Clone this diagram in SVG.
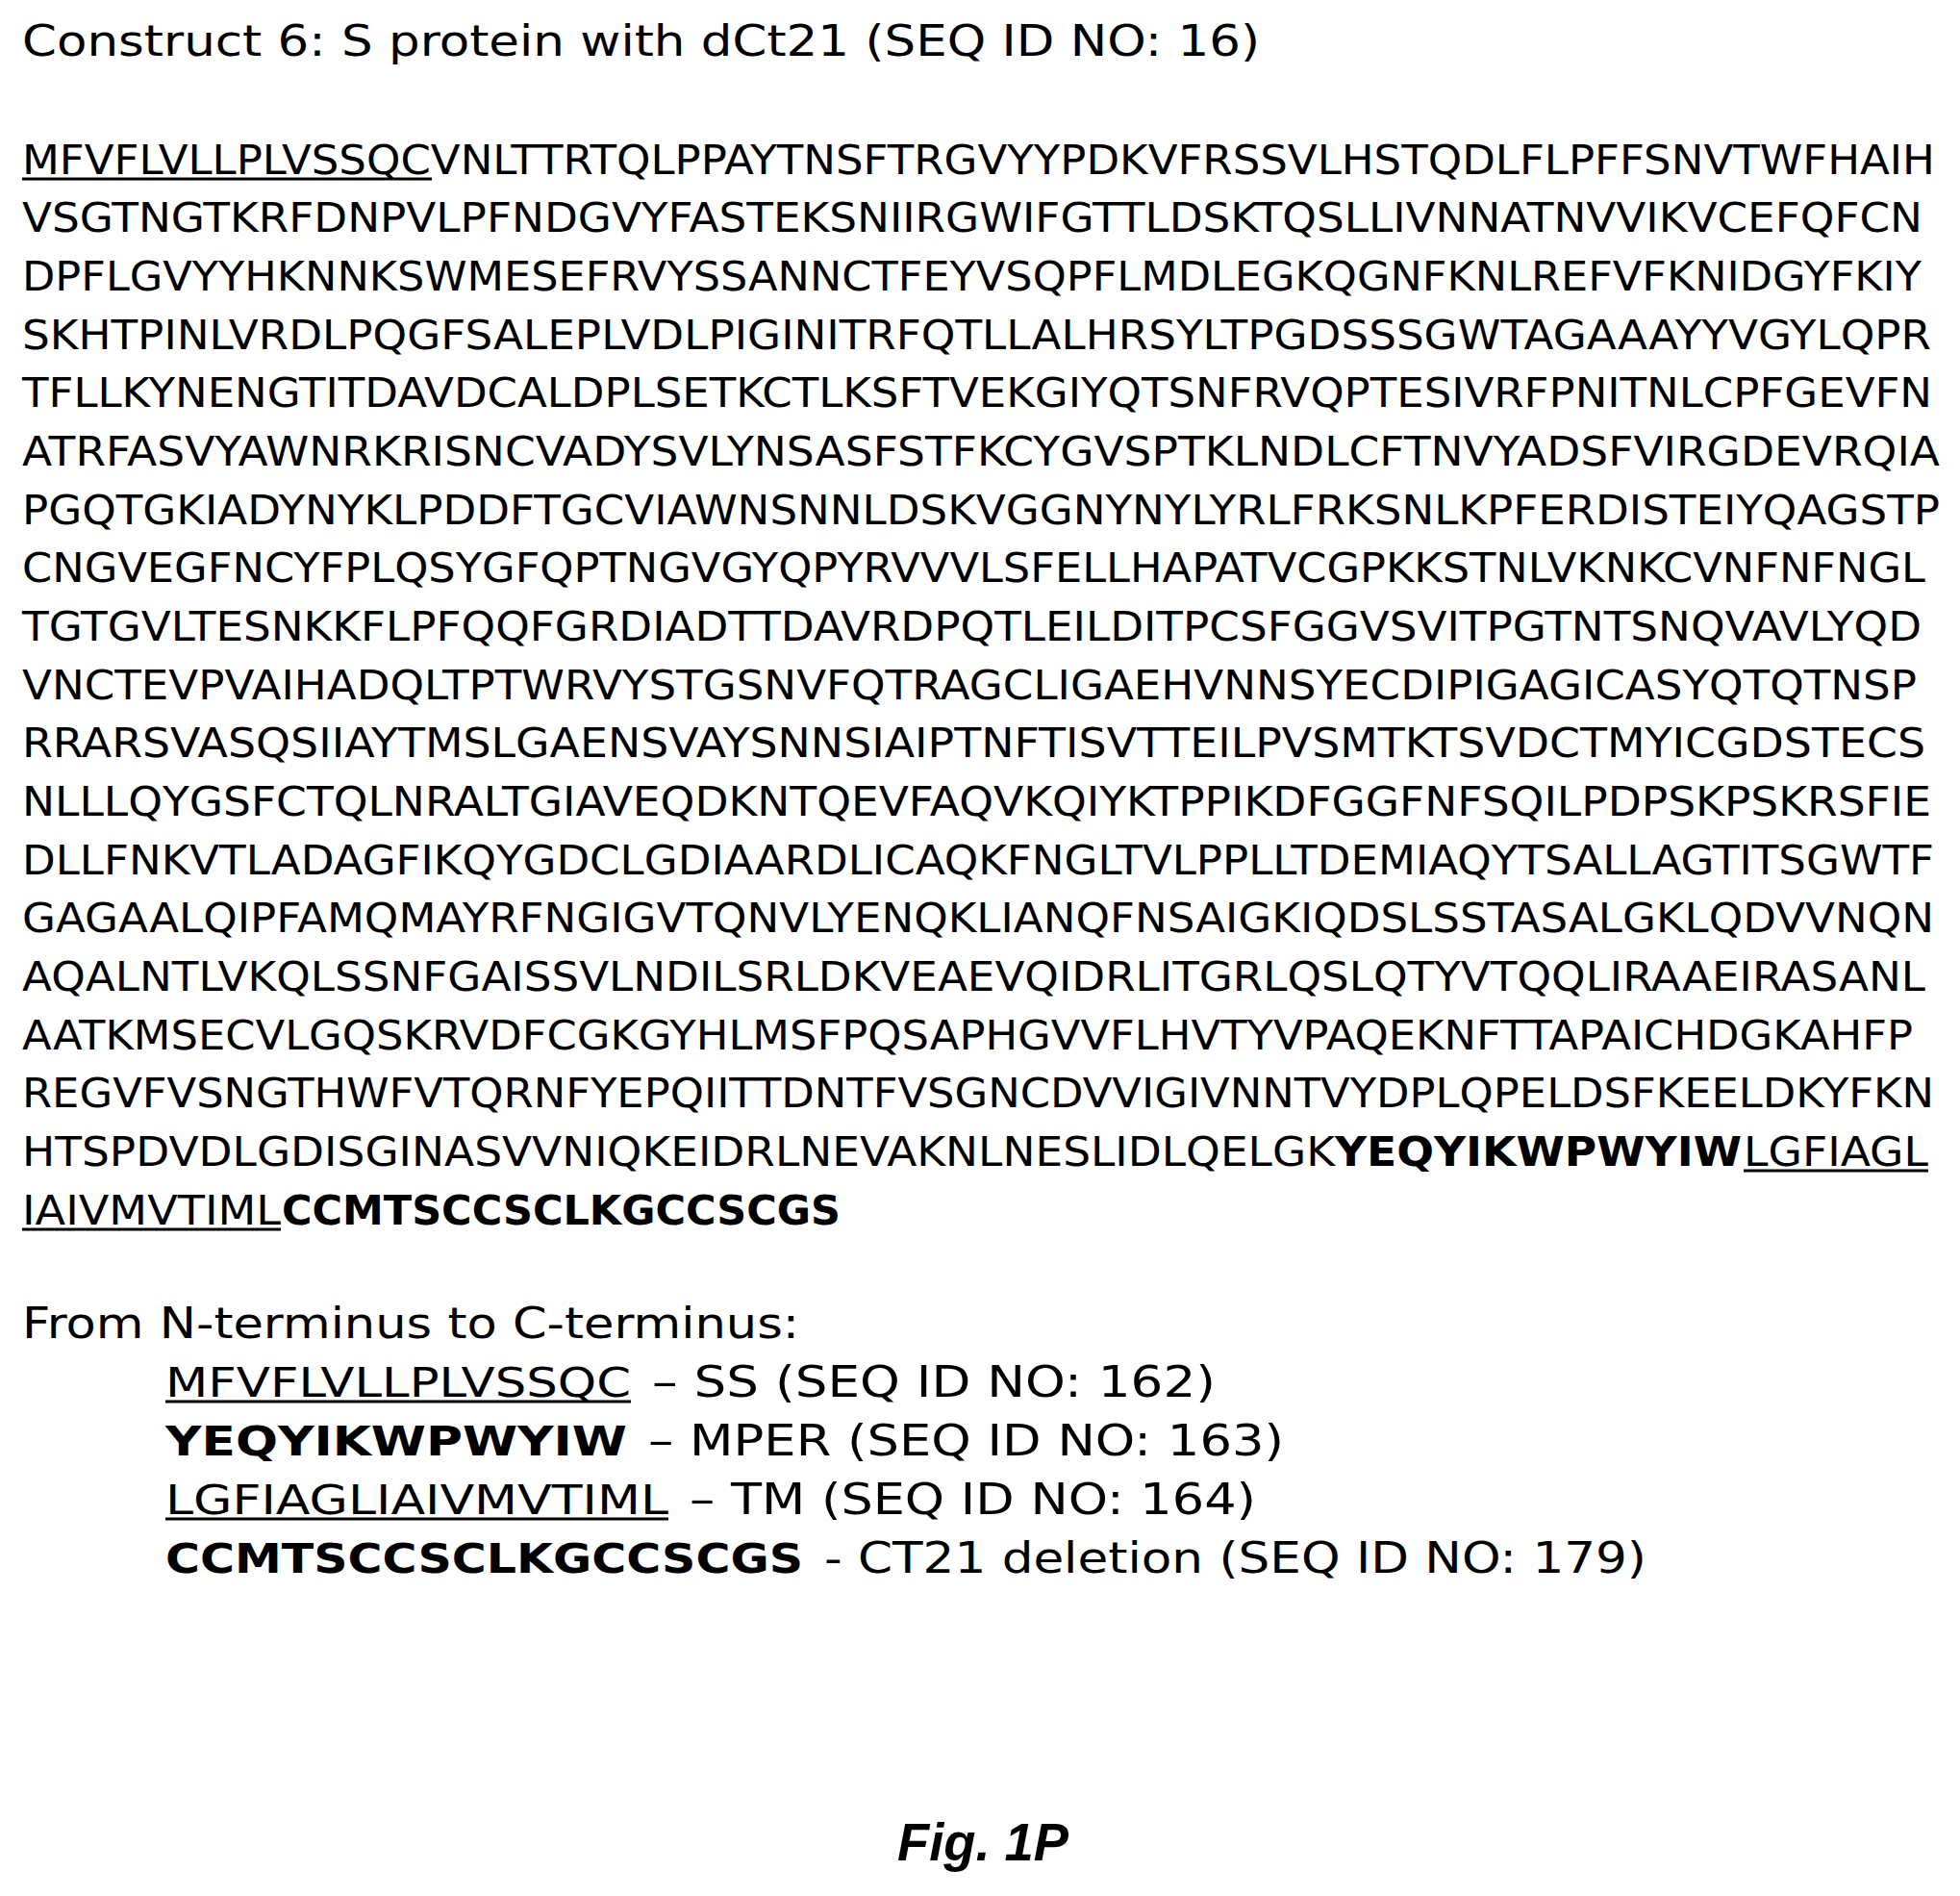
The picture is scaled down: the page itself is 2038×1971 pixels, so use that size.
<svg xmlns="http://www.w3.org/2000/svg" width="2038" height="1971" viewBox="0 0 2038 1971">
<style>
text{font-family:"DejaVu Sans","Verdana",sans-serif;fill:#000}
.t{font-size:44px}
.s{font-size:42px}
.b{font-weight:bold}
.fig{font-family:"Liberation Sans",Arial,sans-serif;font-weight:bold;font-style:italic;font-size:56px}
line{stroke:#000;stroke-width:3}
</style>
<rect width="2038" height="1971" fill="#fff"/>
<g id="title"><text class="t" x="23" y="58" textLength="1287" lengthAdjust="spacingAndGlyphs">Construct 6: S protein with dCt21 (SEQ ID NO: 16)</text></g>
<g id="sequence">
<text class="s" x="23" y="181" textLength="1989" lengthAdjust="spacingAndGlyphs">MFVFLVLLPLVSSQCVNLTTRTQLPPAYTNSFTRGVYYPDKVFRSSVLHSTQDLFLPFFSNVTWFHAIH</text>
<text class="s" x="23" y="241" textLength="1976" lengthAdjust="spacingAndGlyphs">VSGTNGTKRFDNPVLPFNDGVYFASTEKSNIIRGWIFGTTLDSKTQSLLIVNNATNVVIKVCEFQFCN</text>
<text class="s" x="23" y="302" textLength="1975" lengthAdjust="spacingAndGlyphs">DPFLGVYYHKNNKSWMESEFRVYSSANNCTFEYVSQPFLMDLEGKQGNFKNLREFVFKNIDGYFKIY</text>
<text class="s" x="23" y="363" textLength="1985" lengthAdjust="spacingAndGlyphs">SKHTPINLVRDLPQGFSALEPLVDLPIGINITRFQTLLALHRSYLTPGDSSSGWTAGAAAYYVGYLQPR</text>
<text class="s" x="23" y="423" textLength="1986" lengthAdjust="spacingAndGlyphs">TFLLKYNENGTITDAVDCALDPLSETKCTLKSFTVEKGIYQTSNFRVQPTESIVRFPNITNLCPFGEVFN</text>
<text class="s" x="23" y="484" textLength="1994" lengthAdjust="spacingAndGlyphs">ATRFASVYAWNRKRISNCVADYSVLYNSASFSTFKCYGVSPTKLNDLCFTNVYADSFVIRGDEVRQIA</text>
<text class="s" x="23" y="545" textLength="1994" lengthAdjust="spacingAndGlyphs">PGQTGKIADYNYKLPDDFTGCVIAWNSNNLDSKVGGNYNYLYRLFRKSNLKPFERDISTEIYQAGSTP</text>
<text class="s" x="23" y="605" textLength="1979" lengthAdjust="spacingAndGlyphs">CNGVEGFNCYFPLQSYGFQPTNGVGYQPYRVVVLSFELLHAPATVCGPKKSTNLVKNKCVNFNFNGL</text>
<text class="s" x="23" y="666" textLength="1975" lengthAdjust="spacingAndGlyphs">TGTGVLTESNKKFLPFQQFGRDIADTTDAVRDPQTLEILDITPCSFGGVSVITPGTNTSNQVAVLYQD</text>
<text class="s" x="23" y="727" textLength="1970" lengthAdjust="spacingAndGlyphs">VNCTEVPVAIHADQLTPTWRVYSTGSNVFQTRAGCLIGAEHVNNSYECDIPIGAGICASYQTQTNSP</text>
<text class="s" x="23" y="787" textLength="1979" lengthAdjust="spacingAndGlyphs">RRARSVASQSIIAYTMSLGAENSVAYSNNSIAIPTNFTISVTTEILPVSMTKTSVDCTMYICGDSTECS</text>
<text class="s" x="23" y="848" textLength="1985" lengthAdjust="spacingAndGlyphs">NLLLQYGSFCTQLNRALTGIAVEQDKNTQEVFAQVKQIYKTPPIKDFGGFNFSQILPDPSKPSKRSFIE</text>
<text class="s" x="23" y="909" textLength="1988" lengthAdjust="spacingAndGlyphs">DLLFNKVTLADAGFIKQYGDCLGDIAARDLICAQKFNGLTVLPPLLTDEMIAQYTSALLAGTITSGWTF</text>
<text class="s" x="23" y="969" textLength="1988" lengthAdjust="spacingAndGlyphs">GAGAALQIPFAMQMAYRFNGIGVTQNVLYENQKLIANQFNSAIGKIQDSLSSTASALGKLQDVVNQN</text>
<text class="s" x="23" y="1030" textLength="1979" lengthAdjust="spacingAndGlyphs">AQALNTLVKQLSSNFGAISSVLNDILSRLDKVEAEVQIDRLITGRLQSLQTYVTQQLIRAAEIRASANL</text>
<text class="s" x="23" y="1091" textLength="1966" lengthAdjust="spacingAndGlyphs">AATKMSECVLGQSKRVDFCGKGYHLMSFPQSAPHGVVFLHVTYVPAQEKNFTTAPAICHDGKAHFP</text>
<text class="s" x="23" y="1151" textLength="1988" lengthAdjust="spacingAndGlyphs">REGVFVSNGTHWFVTQRNFYEPQIITTDNTFVSGNCDVVIGIVNNTVYDPLQPELDSFKEELDKYFKN</text>
<text class="s" x="23" y="1212" textLength="1365" lengthAdjust="spacingAndGlyphs">HTSPDVDLGDISGINASVVNIQKEIDRLNEVAKNLNESLIDLQELGK</text>
<text class="s b" x="1388" y="1212" textLength="423" lengthAdjust="spacingAndGlyphs">YEQYIKWPWYIW</text>
<text class="s" x="1813" y="1212" textLength="192" lengthAdjust="spacingAndGlyphs">LGFIAGL</text>
<text class="s" x="23" y="1273" textLength="269" lengthAdjust="spacingAndGlyphs">IAIVMVTIML</text>
<text class="s b" x="293" y="1273" textLength="581" lengthAdjust="spacingAndGlyphs">CCMTSCCSCLKGCCSCGS</text>
<line x1="23" y1="186" x2="449" y2="186"/>
<line x1="1813" y1="1217" x2="2005" y2="1217"/>
<line x1="23" y1="1278" x2="292" y2="1278"/>
</g>
<g id="legend">
<text class="t" x="23" y="1391" textLength="808" lengthAdjust="spacingAndGlyphs">From N-terminus to C-terminus:</text>
<text class="s" x="172" y="1452" textLength="484" lengthAdjust="spacingAndGlyphs">MFVFLVLLPLVSSQC</text>
<line x1="172" y1="1457" x2="656" y2="1457"/>
<text class="t" x="678" y="1452" textLength="586" lengthAdjust="spacingAndGlyphs">– SS (SEQ ID NO: 162)</text>
<text class="s b" x="172" y="1513" textLength="480" lengthAdjust="spacingAndGlyphs">YEQYIKWPWYIW</text>
<text class="t" x="674" y="1513" textLength="661" lengthAdjust="spacingAndGlyphs">– MPER (SEQ ID NO: 163)</text>
<text class="s" x="172" y="1574" textLength="523" lengthAdjust="spacingAndGlyphs">LGFIAGLIAIVMVTIML</text>
<line x1="172" y1="1579" x2="695" y2="1579"/>
<text class="t" x="717" y="1574" textLength="589" lengthAdjust="spacingAndGlyphs">– TM (SEQ ID NO: 164)</text>
<text class="s b" x="172" y="1635" textLength="663" lengthAdjust="spacingAndGlyphs">CCMTSCCSCLKGCCSCGS</text>
<text class="t" x="857" y="1635" textLength="855" lengthAdjust="spacingAndGlyphs">- CT21 deletion (SEQ ID NO: 179)</text>
</g>
<g id="caption"><text class="fig" x="933" y="1934" textLength="178" lengthAdjust="spacingAndGlyphs">Fig. 1P</text></g>
</svg>
